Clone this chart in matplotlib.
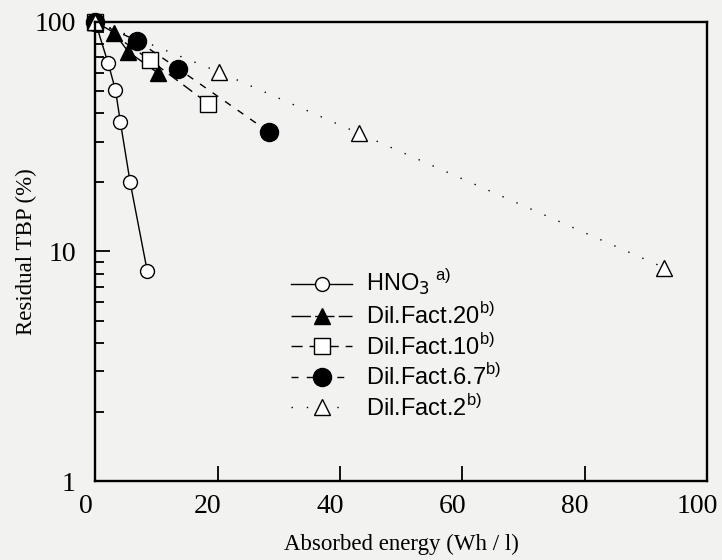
import matplotlib.pyplot as plt
import matplotlib.transforms as mtransforms
from matplotlib.ticker import FixedLocator, LogLocator, NullFormatter

# data
x_hno3 = [0, 2.1, 3.3, 4.1, 5.7, 8.5]
y_hno3 = [100, 66, 50.5, 36.6, 20, 8.2]

x_df20 = [0, 3.1, 5.4, 10.2]
y_df20 = [100, 89.6, 74, 60]

x_df10 = [0, 9.0, 18.5]
y_df10 = [100, 68, 44]

x_df67 = [0, 6.9, 13.6, 28.4]
y_df67 = [100, 82.6, 62.4, 33.1]

x_df2 = [0, 20.2, 43.1, 93]
y_df2 = [100, 60.5, 32.7, 8.5]

xticks = [0, 20, 40, 60, 80, 100]
yticks = [1, 10, 100]

labels = [r'HNO$_3$$^{\ \mathregular{a)}}$',
          r'Dil.Fact.20$^{\mathregular{b)}}$',
          r'Dil.Fact.10$^{\mathregular{b)}}$',
          r'Dil.Fact.6.7$^{\mathregular{b)}}$',
          r'Dil.Fact.2$^{\mathregular{b)}}$']

bg = '#f2f2f0'
fig = plt.figure(figsize=(7.22, 5.6), dpi=100, facecolor=bg)
ax = fig.add_axes([0.132, 0.141, 0.847, 0.820], facecolor=bg)

k = dict(color='black', clip_on=False, lw=1.0)
ax.plot(x_hno3, y_hno3, '-', marker='o', ms=10, mfc='white', mew=1.0, label=labels[0], **k)
ax.plot(x_df20, y_df20, ls=(0, (14, 3)), marker='^', ms=11, mfc='black', label=labels[1], **k)
ax.plot(x_df10, y_df10, ls=(0, (8, 5)), marker='s', ms=12, mfc='white', mew=1.0, label=labels[2], **k)
ax.plot(x_df67, y_df67, ls=(0, (5, 6)), marker='o', ms=13, mfc='black', label=labels[3], **k)
ax.plot(x_df2, y_df2, ls=(0, (1, 10)), marker='^', ms=12, mfc='white', mew=1.0, label=labels[4], **k)

ax.set_yscale('log')
ax.set_xlim(0, 100)
ax.set_ylim(1, 100)

ax.xaxis.set_major_locator(FixedLocator(xticks))
ax.yaxis.set_major_locator(FixedLocator(yticks))
ax.yaxis.set_minor_locator(LogLocator(base=10, subs=range(2, 10)))
ax.yaxis.set_minor_formatter(NullFormatter())
ax.set_yticklabels([str(v) for v in yticks])
ax.set_xticklabels([str(v) for v in xticks])

ax.tick_params(axis='both', which='major', direction='in', length=11, width=1.3,
               labelsize=20)
ax.tick_params(axis='x', which='major', pad=9)
ax.tick_params(axis='y', which='major', pad=14)
ax.tick_params(axis='y', which='minor', direction='in', length=6.5, width=1.3)
off = mtransforms.ScaledTranslation(-7 / 72, 0, fig.dpi_scale_trans)
for t in ax.get_xticklabels():
    t.set_transform(t.get_transform() + off)
for t in ax.get_xticklabels() + ax.get_yticklabels():
    t.set_fontfamily('Liberation Serif')
for s in ax.spines.values():
    s.set_linewidth(1.7)

ax.set_xlabel('Absorbed energy (Wh / l)', fontsize=16.5, family='Liberation Serif')
ax.set_ylabel('Residual TBP (%)', fontsize=16.5, family='Liberation Serif')
ax.xaxis.set_label_coords(0.5, -0.115)
ax.yaxis.set_label_coords(-0.095, 0.5)

leg = ax.legend(loc='upper left', bbox_to_anchor=(0.285, 0.51), frameon=False,
                prop={'family': 'Liberation Sans', 'size': 17},
                handlelength=2.6, labelspacing=0.2, handletextpad=0.6)

fig.savefig('out.png', dpi=100, facecolor=bg)
